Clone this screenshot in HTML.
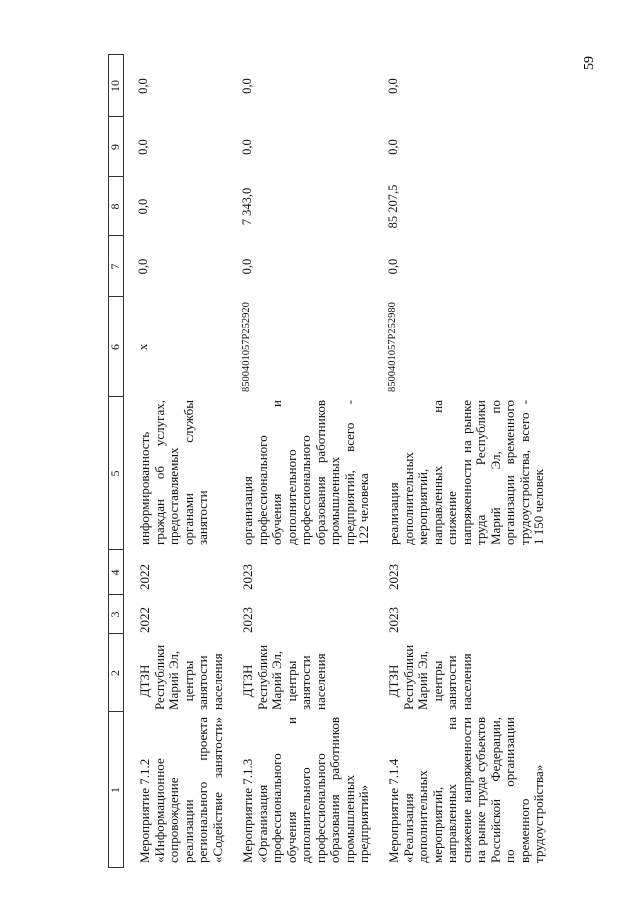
<!DOCTYPE html>
<html><head><meta charset="utf-8">
<style>
html,body{margin:0;padding:0;background:#fff;}
body{width:639px;height:905px;overflow:hidden;position:relative;}
#r{position:absolute;left:0;top:0;width:905px;height:639px;transform-origin:0 0;transform:translateY(905px) rotate(-90deg);font-family:"Liberation Serif",serif;color:#111;}
.t{position:absolute;font-size:13px;line-height:14.5px;white-space:nowrap;}
.t div{height:14.5px;}
.j{text-align:justify;text-align-last:justify;}
.c{text-align:center;}
.h{position:absolute;top:108px;height:15px;line-height:15px;font-size:12px;text-align:center;}
.ln{position:absolute;background:#333;}
.v{position:absolute;font-size:12.5px;text-align:center;line-height:14px;}
.code{position:absolute;font-size:10.5px;line-height:14px;white-space:nowrap;}
#pg{position:absolute;left:583px;top:55px;font-family:"Liberation Serif",serif;font-size:14px;transform:rotate(-90deg);}
</style></head><body>
<div id="pg">59</div>
<div id="r">
<!-- header band -->
<div class="ln" style="left:37px;top:108px;width:813px;height:1px"></div>
<div class="ln" style="left:37px;top:123px;width:813px;height:1px"></div>
<div class="ln" style="left:37px;top:108px;width:1px;height:16px"></div>
<div class="ln" style="left:850px;top:108px;width:1px;height:16px"></div>
<div class="ln" style="left:193px;top:108px;width:1px;height:16px"></div>
<div class="ln" style="left:271px;top:108px;width:1px;height:16px"></div>
<div class="ln" style="left:310px;top:108px;width:1px;height:16px"></div>
<div class="ln" style="left:355px;top:108px;width:1px;height:16px"></div>
<div class="ln" style="left:508px;top:108px;width:1px;height:16px"></div>
<div class="ln" style="left:608px;top:108px;width:1px;height:16px"></div>
<div class="ln" style="left:669px;top:108px;width:1px;height:16px"></div>
<div class="ln" style="left:728px;top:108px;width:1px;height:16px"></div>
<div class="ln" style="left:788px;top:108px;width:1px;height:16px"></div>
<div class="h" style="left:37px;width:156px">1</div>
<div class="h" style="left:193px;width:78px">2</div>
<div class="h" style="left:271px;width:39px">3</div>
<div class="h" style="left:310px;width:45px">4</div>
<div class="h" style="left:355px;width:153px">5</div>
<div class="h" style="left:508px;width:100px">6</div>
<div class="h" style="left:608px;width:61px">7</div>
<div class="h" style="left:669px;width:59px">8</div>
<div class="h" style="left:728px;width:60px">9</div>
<div class="h" style="left:788px;width:62px">10</div>

<!-- Row 1 -->
<div class="t" style="left:42px;top:138px;width:146px">
<div>Мероприятие 7.1.2</div><div>«Информационное</div><div>сопровождение</div><div>реализации</div><div class="j">регионального проекта</div><div class="j">«Содействие занятости»</div></div>
<div class="t" style="left:195px;top:138px;width:58px">
<div class="c">ДТЗН</div><div>Республики</div><div>Марий Эл,</div><div class="c">центры</div><div>занятости</div><div>населения</div></div>
<div class="t" style="left:272px;top:138px">2022</div>
<div class="t" style="left:315px;top:138px">2022</div>
<div class="t" style="left:360px;top:138px;width:145px">
<div>информированность</div><div class="j">граждан об услугах,</div><div>предоставляемых</div><div class="j">органами службы</div><div>занятости</div></div>
<div class="v" style="left:508px;top:136px;width:100px">x</div>
<div class="v" style="left:608px;top:136px;width:61px">0,0</div>
<div class="v" style="left:669px;top:136px;width:59px">0,0</div>
<div class="v" style="left:728px;top:136px;width:60px">0,0</div>
<div class="v" style="left:788px;top:136px;width:62px">0,0</div>

<!-- Row 2 -->
<div class="t" style="left:42px;top:241px;width:146px">
<div>Мероприятие 7.1.3</div><div>«Организация</div><div>профессионального</div><div class="j">обучения и</div><div>дополнительного</div><div>профессионального</div><div class="j">образования работников</div><div>промышленных</div><div>предприятий»</div></div>
<div class="t" style="left:195px;top:241px;width:58px">
<div class="c">ДТЗН</div><div>Республики</div><div>Марий Эл,</div><div class="c">центры</div><div>занятости</div><div>населения</div></div>
<div class="t" style="left:272px;top:241px">2023</div>
<div class="t" style="left:315px;top:241px">2023</div>
<div class="t" style="left:360px;top:241px;width:145px">
<div>организация</div><div>профессионального</div><div class="j">обучения и</div><div>дополнительного</div><div>профессионального</div><div class="j">образования работников</div><div>промышленных</div><div class="j">предприятий, всего -</div><div>122 человека</div></div>
<div class="code" style="left:513px;top:240px">8500401057Р252920</div>
<div class="v" style="left:608px;top:240px;width:61px">0,0</div>
<div class="v" style="left:669px;top:240px;width:59px">7 343,0</div>
<div class="v" style="left:728px;top:240px;width:60px">0,0</div>
<div class="v" style="left:788px;top:240px;width:62px">0,0</div>

<!-- Row 3 -->
<div class="t" style="left:42px;top:387px;width:146px">
<div>Мероприятие 7.1.4</div><div>«Реализация</div><div>дополнительных</div><div>мероприятий,</div><div class="j">направленных на</div><div class="j">снижение напряженности</div><div class="j">на рынке труда субъектов</div><div class="j">Российской Федерации,</div><div class="j">по организации</div><div>временного</div><div>трудоустройства»</div></div>
<div class="t" style="left:195px;top:387px;width:58px">
<div class="c">ДТЗН</div><div>Республики</div><div>Марий Эл,</div><div class="c">центры</div><div>занятости</div><div>населения</div></div>
<div class="t" style="left:272px;top:387px">2023</div>
<div class="t" style="left:315px;top:387px">2023</div>
<div class="t" style="left:360px;top:387px;width:145px">
<div>реализация</div><div>дополнительных</div><div>мероприятий,</div><div class="j">направленных на</div><div>снижение</div><div class="j">напряженности на рынке</div><div class="j">труда Республики</div><div class="j">Марий Эл, по</div><div class="j">организации временного</div><div class="j">трудоустройства, всего -</div><div>1 150 человек</div></div>
<div class="code" style="left:513px;top:386px">8500401057Р252980</div>
<div class="v" style="left:608px;top:386px;width:61px">0,0</div>
<div class="v" style="left:669px;top:386px;width:59px">85 207,5</div>
<div class="v" style="left:728px;top:386px;width:60px">0,0</div>
<div class="v" style="left:788px;top:386px;width:62px">0,0</div>
</div>
</body></html>
